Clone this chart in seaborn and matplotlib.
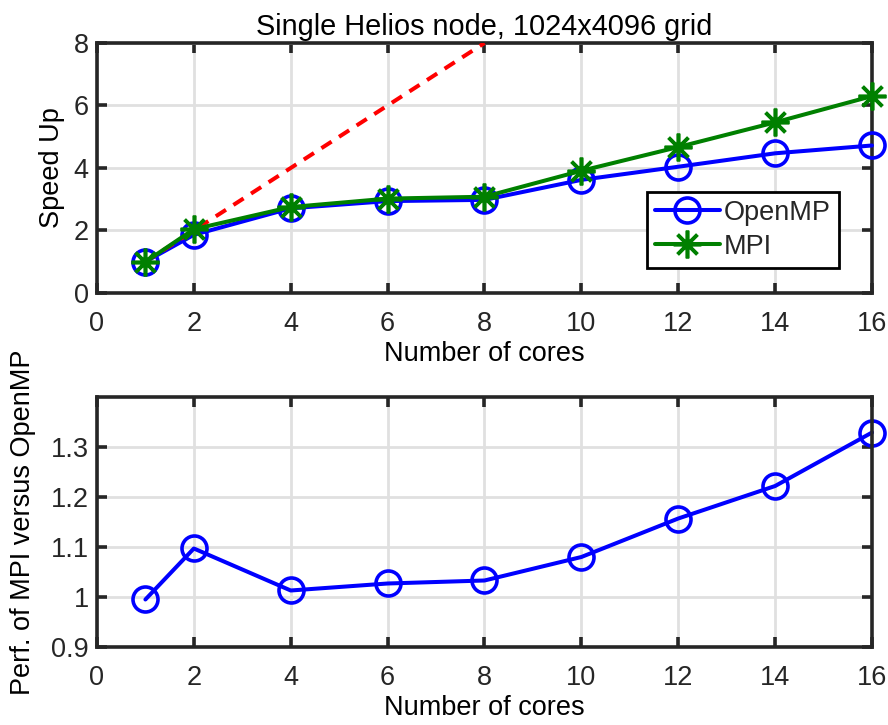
import matplotlib
matplotlib.use("Agg")
import matplotlib.pyplot as plt
import seaborn as sns
import pandas as pd

cores = [1, 2, 4, 6, 8, 10, 12, 14, 16]
openmp_speedup = [1.0, 1.86, 2.71, 2.94, 2.98, 3.62, 4.04, 4.47, 4.72]
mpi_speedup = [0.995, 2.04, 2.75, 3.02, 3.08, 3.91, 4.67, 5.46, 6.3]
ideal_cores = [1, 2, 4, 6, 8]
ratio = [0.995, 1.097, 1.013, 1.027, 1.033, 1.08, 1.157, 1.222, 1.329]

x_ticks = [0, 2, 4, 6, 8, 10, 12, 14, 16]
top_y_ticks = [0, 2, 4, 6, 8]
bottom_y_ticks = [0.9, 1.0, 1.1, 1.2, 1.3]
bottom_y_labels = ["0.9", "1", "1.1", "1.2", "1.3"]

sns.set_theme(style="whitegrid")
plt.rcParams["font.family"] = ["Liberation Sans", "DejaVu Sans"]

FS = 19.5

fig = plt.figure(figsize=(8.88, 7.25), dpi=100)
ax1 = fig.add_axes([0.1092, 0.5959, 0.8728, 0.3448])
ax2 = fig.add_axes([0.1092, 0.1076, 0.8728, 0.3448])

speed = pd.DataFrame({
    "cores": cores * 2,
    "speedup": openmp_speedup + mpi_speedup,
    "method": ["OpenMP"] * len(cores) + ["MPI"] * len(cores),
})
ideal = pd.DataFrame({"cores": ideal_cores, "speedup": ideal_cores})
perf = pd.DataFrame({"cores": cores, "ratio": ratio})

lw = 2.9
# ideal linear speed-up
sns.lineplot(data=ideal, x="cores", y="speedup", ax=ax1, color="red",
             lw=lw, linestyle=(0, (3, 2.2)), zorder=4)
sns.lineplot(data=speed[speed.method == "OpenMP"], x="cores", y="speedup", ax=ax1,
             color="blue", lw=lw, marker="o", markersize=18, markerfacecolor="none",
             markeredgecolor="blue", markeredgewidth=2.6, label="OpenMP", zorder=3,
             clip_on=False)
sns.lineplot(data=speed[speed.method == "MPI"], x="cores", y="speedup", ax=ax1,
             color="#008000", lw=lw, marker=(8, 2, 0), markersize=20,
             markeredgecolor="#008000", markeredgewidth=2.6, label="MPI", zorder=5,
             clip_on=False)

sns.lineplot(data=perf, x="cores", y="ratio", ax=ax2, color="blue", lw=lw,
             marker="o", markersize=18, markerfacecolor="none",
             markeredgecolor="blue", markeredgewidth=2.6, clip_on=False)

for ax in (ax1, ax2):
    ax.set_xlim(0, 16)
    ax.set_xticks(x_ticks)
    ax.set_facecolor("white")
    ax.grid(True, color="#e0e0e0", lw=2.0)
    ax.set_axisbelow(True)
    for s in ax.spines.values():
        s.set_visible(True)
        s.set_color("#262626")
        s.set_linewidth(2.6)
    ax.tick_params(direction="in", length=7, width=2.6, color="#262626",
                   labelcolor="#262626", labelsize=FS, top=True, right=True,
                   bottom=True, left=True, pad=6)
    ax.tick_params(axis="x", pad=13)
    ax.set_xlabel("Number of cores", fontsize=FS, color="black", labelpad=3)

ax1.set_ylim(0, 8)
ax1.set_yticks(top_y_ticks)
ax1.set_ylabel("Speed Up", fontsize=FS, color="black", labelpad=6)
ax1.set_title("Single Helios node, 1024x4096 grid", fontsize=20.8, color="black", pad=6)

ax2.set_ylim(0.9, 1.4)
ax2.set_yticks(bottom_y_ticks)
ax2.set_yticklabels(bottom_y_labels)
ax2.set_ylabel("Perf. of MPI versus OpenMP", fontsize=FS, color="black", labelpad=10.5)

leg = ax1.legend(loc="lower right", bbox_to_anchor=(0.957, 0.1), fontsize=FS,
                 frameon=True, fancybox=False, handlelength=2.4,
                 borderpad=0.3, labelspacing=0.3, handletextpad=0.15,
                 borderaxespad=0)
leg.get_frame().set_edgecolor("black")
leg.get_frame().set_linewidth(2.0)
leg.get_frame().set_alpha(1)

fig.savefig("out.png", dpi=100)
